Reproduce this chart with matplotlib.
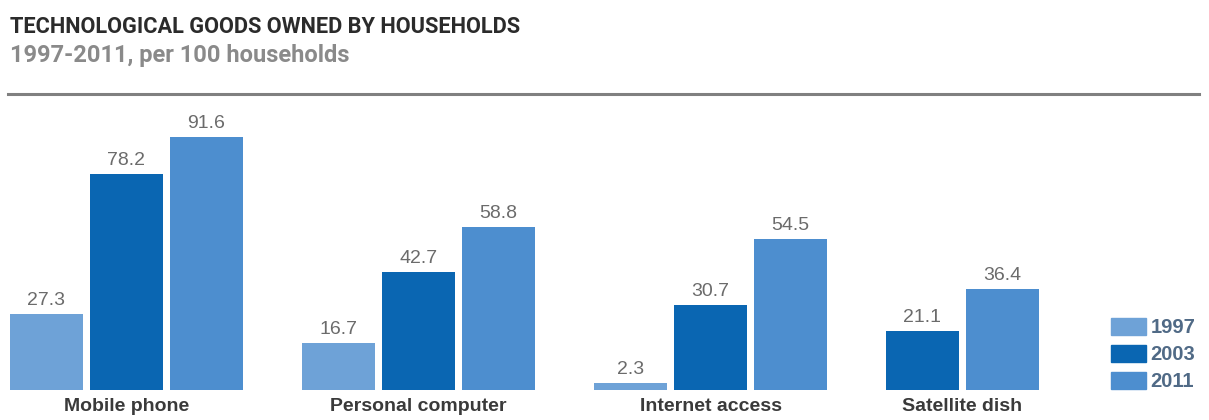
import matplotlib
matplotlib.use("Agg")
import matplotlib.pyplot as plt
from matplotlib.lines import Line2D

# households owning each item, per 100 households (None = not surveyed)
categories = ["Mobile phone", "Personal computer", "Internet access", "Satellite dish"]
years = ["1997", "2003", "2011"]
values_1997 = [27.3, 16.7, 2.3, None]
values_2003 = [78.2, 42.7, 30.7, 21.1]
values_2011 = [91.6, 58.8, 54.5, 36.4]

colors = ["#6ea2d7", "#0a66b2", "#4d8ecf"]
series = [values_1997, values_2003, values_2011]

W, H = 1209, 420
fig = plt.figure(figsize=(W / 100, H / 100), dpi=100)

# axes spans full width; baseline sits ~30px above the bottom edge
ax = fig.add_axes([0, 30.5 / H, 1, (389.5 - 100) / H])
ax.set_xlim(0, W / 80)
ax.set_ylim(0, 105.0)
ax.axis("off")

bar_w = 0.9125
group_gap = 1.65
pos = 10 / 80 + bar_w / 2
for gi, cat in enumerate(categories):
    centers = []
    for si, vals in enumerate(series):
        v = vals[gi]
        if v is None:
            continue
        ax.bar(pos, v, width=bar_w, color=colors[si], linewidth=0)
        ax.annotate(f"{v:.1f}", (pos, v), xytext=(0, 6.5), textcoords="offset points",
                    ha="center", va="baseline", fontsize=14, color="#6b6b6b",
                    family="Liberation Sans")
        centers.append(pos)
        pos += 1
    mid = (centers[0] + centers[-1]) / 2
    ax.annotate(cat, (mid, 0), xytext=(0, -15.8), textcoords="offset points",
                ha="center", va="baseline", fontsize=14, fontweight="bold",
                color="#3a3a3a", family="Liberation Sans", annotation_clip=False)
    pos += group_gap - 1

# header
fig.text(10 / W, 1 - 33 / H, "TECHNOLOGICAL GOODS OWNED BY HOUSEHOLDS",
         fontsize=15.7, fontweight="bold", color="#2b2b2b",
         family="Roboto", va="baseline")
fig.text(10 / W, 1 - 62 / H, "1997-2011, per 100 households",
         fontsize=17, fontweight="bold", color="#8a8a8a",
         family="Roboto", va="baseline")
fig.add_artist(Line2D([8 / W, 1199 / W], [1 - 94 / H, 1 - 94 / H],
                      color="#808080", linewidth=2.2))

handles = [plt.Rectangle((0, 0), 1, 1, color=c) for c in colors]
leg = ax.legend(handles, years, loc="center left",
                bbox_to_anchor=(1111 / W, (420 - 354.5) / H),
                bbox_transform=fig.transFigure, frameon=False,
                prop={"family": "Liberation Sans", "weight": "bold", "size": 14.5},
                handlelength=1.75, handleheight=0.9, handletextpad=0.2,
                labelspacing=0.38, borderpad=0, borderaxespad=0)
for t in leg.get_texts():
    t.set_color("#506a86")

fig.savefig("out.png", dpi=100)
